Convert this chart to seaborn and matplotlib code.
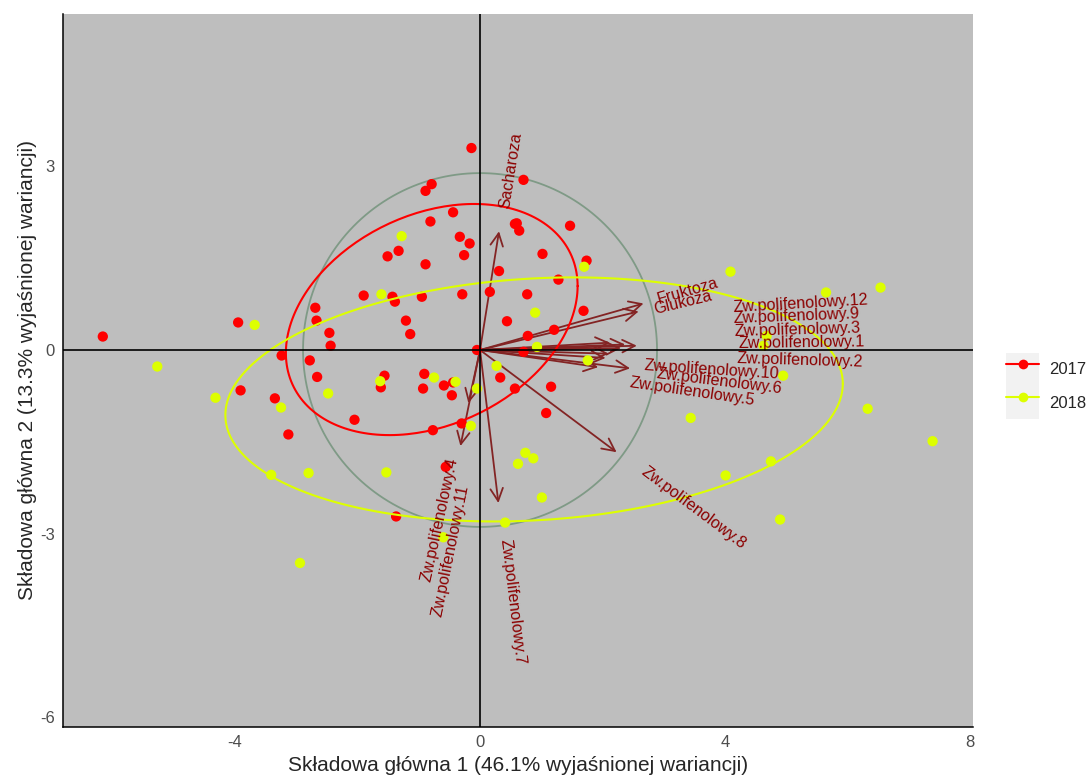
import numpy as np
import pandas as pd
import matplotlib
matplotlib.use("Agg")
import matplotlib.pyplot as plt
from matplotlib.lines import Line2D
from matplotlib.patches import Rectangle
from matplotlib.legend_handler import HandlerTuple
import seaborn as sns

# PCA scores (PC1, PC2) per harvest year
pc1_2017 = [-0.14, -0.79, -0.89, -0.44, -0.81, -0.33, -0.17, -1.33, -1.51, -0.26,
            -0.89, -1.90, -1.43, -1.39, -0.95, -0.29, -2.69, -2.67, -2.46, -2.44,
            -1.21, -1.14, -3.95, -6.16, -0.05, -3.24, -2.78, -2.66, -1.56, -1.62,
            -0.91, -0.93, -0.59, -0.46, -0.44, -3.91, -3.35, -2.05, -3.13, -0.77,
            -0.30, -0.56, -1.37, 0.71, 0.57, 0.64, 0.60, 1.47, 1.02, 1.74,
            0.31, 1.28, 0.16, 0.77, 1.69, 0.44, 1.21, 0.78, 0.71, 0.33,
            0.57, 1.16, 1.08]
pc2_2017 = [3.30, 2.71, 2.60, 2.25, 2.10, 1.85, 1.74, 1.62, 1.53, 1.55,
            1.40, 0.89, 0.87, 0.79, 0.87, 0.91, 0.69, 0.48, 0.28, 0.07,
            0.48, 0.26, 0.45, 0.22, 0.00, -0.09, -0.17, -0.44, -0.42, -0.61,
            -0.39, -0.63, -0.58, -0.74, -0.53, -0.66, -0.79, -1.14, -1.38, -1.31,
            -1.20, -1.91, -2.72, 2.78, 2.06, 1.95, 2.07, 2.03, 1.57, 1.46,
            1.29, 1.15, 0.95, 0.91, 0.64, 0.47, 0.33, 0.23, -0.03, -0.45,
            -0.63, -0.60, -1.03]
pc1_2018 = [-1.28, -1.61, -3.68, -5.27, -1.63, -0.75, -0.40, -0.05, -4.32, -3.25,
            -2.48, -0.15, -3.41, -2.80, -1.53, -0.60, -2.94, 1.70, 0.90, 0.93,
            1.76, 0.27, 4.09, 6.54, 5.65, 4.68, 4.63, 4.95, 6.33, 7.39,
            3.44, 4.75, 4.01, 4.90, 0.74, 0.87, 0.62, 1.01, 0.41]
pc2_2018 = [1.86, 0.91, 0.41, -0.27, -0.51, -0.45, -0.52, -0.63, -0.78, -0.94,
            -0.71, -1.24, -2.04, -2.01, -2.00, -3.06, -3.48, 1.36, 0.61, 0.05,
            -0.17, -0.26, 1.28, 1.02, 0.94, 0.23, 0.07, -0.42, -0.96, -1.49,
            -1.11, -1.82, -2.05, -2.77, -1.68, -1.77, -1.86, -2.41, -2.82]

# Variable loadings (arrow tips) and label anchors
var_names = ["Sacharoza", "Fruktoza", "Glukoza",
             "Zw.polifenolowy.12", "Zw.polifenolowy.9", "Zw.polifenolowy.3",
             "Zw.polifenolowy.1", "Zw.polifenolowy.2", "Zw.polifenolowy.10",
             "Zw.polifenolowy.6", "Zw.polifenolowy.5", "Zw.polifenolowy.8",
             "Zw.polifenolowy.7", "Zw.polifenolowy.4", "Zw.polifenolowy.11"]
load_x = [0.31, 2.67, 2.59, 2.12, 2.37, 2.56, 2.30, 2.10, 2.05, 2.45, 1.93, 2.23, 0.30, -0.19, -0.32]
load_y = [1.94, 0.76, 0.63, 0.12, 0.09, 0.07, 0.03, -0.06, -0.13, -0.30, -0.28, -1.67, -2.50, -0.87, -1.57]
label_x = [0.41, 2.90, 2.85, 4.13, 4.13, 4.16, 4.22, 4.19, 2.67, 2.88, 2.44, 2.66, 0.41, -0.44, -0.27]
label_y = [2.32, 0.83, 0.665, 0.69, 0.507, 0.31, 0.103, -0.136, -0.25, -0.39, -0.53, -1.96, -3.09, -1.77, -2.21]

years = ["2017", "2018"]
year_colors = {"2017": "#FF0000", "2018": "#DDFF00"}
xlab = "Składowa główna 1 (46.1% wyjaśnionej wariancji)"
ylab = "Składowa główna 2 (13.3% wyjaśnionej wariancji)"
x_ticks = [-4, 0, 4, 8]
y_ticks = [-6, -3, 0, 3]

scores = pd.DataFrame({
    "PC1": pc1_2017 + pc1_2018,
    "PC2": pc2_2017 + pc2_2018,
    "rok": ["2017"] * len(pc1_2017) + ["2018"] * len(pc1_2018),
})

sns.set_style("white")
plt.rcParams["font.family"] = ["Liberation Sans", "DejaVu Sans"]
plt.rcParams["axes.unicode_minus"] = False

fig = plt.figure(figsize=(10.91, 7.78), dpi=100)
ax = fig.add_axes([63 / 1091, 51 / 778, 910 / 1091, 713 / 778])
ax.set_facecolor("#BEBEBE")

# correlation circle
u2 = np.column_stack([scores["PC1"], scores["PC2"]]) ** 2
r = np.sqrt(-2 * np.log(1 - 0.69)) * np.prod(u2.mean(axis=0)) ** 0.25
t = np.linspace(0, 2 * np.pi, 200)
ax.plot(r * np.cos(t), r * np.sin(t), color="#7F9A86", lw=1.3, zorder=1)

# variable arrows
arrow_col = "#832424"
for lx, ly in zip(load_x, load_y):
    ax.annotate("", xy=(lx, ly), xytext=(0, 0),
                arrowprops=dict(arrowstyle="->,head_length=0.9,head_width=0.45",
                                color=arrow_col, lw=1.3, shrinkA=0, shrinkB=0),
                zorder=2)

# observations
sns.scatterplot(data=scores, x="PC1", y="PC2", hue="rok", palette=year_colors,
                s=55, linewidth=0, legend=False, ax=ax, zorder=3)

# 68% normal ellipses per year
ed = np.sqrt(-2 * np.log(1 - 0.68))
circ = np.column_stack([np.cos(t), np.sin(t)])
for yr in years:
    g = scores[scores["rok"] == yr]
    xy = g[["PC1", "PC2"]].to_numpy()
    sigma = np.cov(xy.T)
    chol = np.linalg.cholesky(sigma).T
    ell = circ @ chol * ed + xy.mean(axis=0)
    ax.plot(ell[:, 0], ell[:, 1], color=year_colors[yr], lw=1.5, zorder=4)

# variable labels
for name, lx, ly, tx, ty in zip(var_names, load_x, load_y, label_x, label_y):
    ang = np.degrees(np.arctan(ly / lx))
    ax.text(tx, ty, name, rotation=ang, rotation_mode="anchor",
            ha="left" if lx > 0 else "right", va="center",
            color="#8B0000", fontsize=11.6, zorder=5)

ax.axhline(0, color="black", lw=1.2, zorder=6)
ax.axvline(0, color="black", lw=1.2, zorder=6)

ax.set_xlim(-6.81, 8.05)
ax.set_ylim(-6.16, 5.49)
ax.set_xticks(x_ticks)
ax.set_yticks(y_ticks)
ax.tick_params(axis="both", direction="out", length=4, width=0.9, color="#333333",
               labelsize=12, labelcolor="#4D4D4D", pad=2)
for side in ["top", "right"]:
    ax.spines[side].set_visible(False)
for side in ["left", "bottom"]:
    ax.spines[side].set_color("black")
    ax.spines[side].set_linewidth(1.1)
ax.set_xlabel(xlab, fontsize=15, labelpad=4)
ax.set_ylabel(ylab, fontsize=15, labelpad=2)

handles = []
for yr in years:
    bg = Rectangle((0, 0), 1, 1, facecolor="#F2F2F2", edgecolor="none")
    ln = Line2D([], [], color=year_colors[yr], lw=1.5, marker="o", markersize=7,
                markeredgewidth=0)
    handles.append((bg, ln))
fig.legend(handles, years, handler_map={tuple: HandlerTuple(ndivide=1, pad=0)},
           loc="center left", bbox_to_anchor=(1006 / 1091, 1 - 386 / 778),
           frameon=False, fontsize=12, handlelength=2.0, handleheight=2.7,
           labelspacing=0.0, handletextpad=0.6, borderpad=0.0, borderaxespad=0.0)

fig.savefig("out.png", dpi=100, facecolor="white")
